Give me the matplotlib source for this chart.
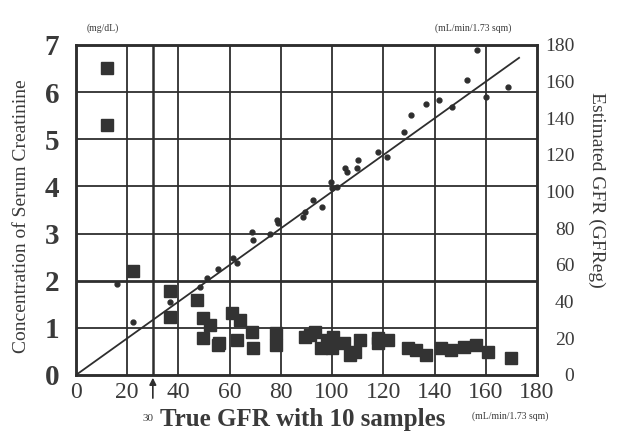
import numpy as np
import matplotlib.pyplot as plt

# serum creatinine (left axis, mg/dL) vs true GFR
cr_gfr = [12, 12, 22.3, 36.8, 36.8, 47.3, 49.7, 52.4, 49.7, 55.6, 56,
          61, 64.2, 68.9, 63, 69.3, 77.9, 77.9, 89.6, 93.5, 95.5, 100.5,
          104.5, 107, 111, 117.8, 91.5, 98, 100, 109, 118, 122, 129.5,
          132.6, 136.5, 142.4, 146.3, 151.4, 156, 160.8, 169.8]
creat = [6.51, 5.3, 2.2, 1.78, 1.23, 1.59, 1.21, 1.06, 0.78, 0.64, 0.68,
         1.31, 1.17, 0.91, 0.74, 0.57, 0.89, 0.64, 0.81, 0.91, 0.57, 0.81,
         0.68, 0.42, 0.74, 0.68, 0.85, 0.74, 0.57, 0.49, 0.78, 0.74, 0.57,
         0.53, 0.42, 0.57, 0.53, 0.59, 0.64, 0.49, 0.36]

# estimated GFR (right axis) vs true GFR
est_true = [16, 22.3, 36.8, 48.5, 51.3, 55.6, 61.4, 63, 68.9, 69.3, 75.9,
            78.6, 79, 88.8, 89.6, 92.7, 96.2, 99.4, 100, 102, 105, 106,
            110, 109.9, 117.8, 121.3, 128, 130.7, 136.5, 141.6, 146.7,
            152.6, 156.5, 160, 168.6]
est_gfr = [49.6, 28.9, 40, 48, 53, 58, 64, 61, 78, 73.6, 77,
           84.5, 83, 86, 89, 95.5, 91.6, 105, 102, 102.6, 113, 110.7,
           117, 113, 121.6, 119, 132.5, 141.8, 148, 150, 146,
           161, 177, 151.6, 157]

identity = [0, 173]

xgrid = [20, 30, 40, 60, 80, 100, 120, 140, 160]

plt.rcParams['font.family'] = ['Liberation Serif', 'DejaVu Serif']

fig = plt.figure(figsize=(6.21, 4.36), dpi=100)
ax = fig.add_axes([0.1224, 0.14, 0.7423, 0.7568])
ax2 = ax.twinx()

dark = '#2e2e2e'
txt = '#3a3a3a'

ax.set_xlim(0, 180)
ax.set_ylim(0, 7)
ax2.set_ylim(0, 180)

for xv in xgrid:
    ax.axvline(xv, color=dark, lw=1.8 if xv == 30 else 1.3, zorder=1)
for yv in range(1, 7):
    ax.axhline(yv, color=dark, lw=2.0 if yv == 2 else 1.3, zorder=1)

ax2.plot(identity, identity, color=dark, lw=1.3, zorder=2)
ax2.plot(est_true, est_gfr, 'o', color=dark, ms=3.5, zorder=3)
ax.plot(cr_gfr, creat, 's', color='#333333', ms=9, mec='#333333', zorder=3)

ax.set_xticks(range(0, 181, 20))
ax.set_yticks(range(0, 8))
ax2.set_yticks(range(0, 181, 20))
ax.tick_params(axis='x', length=0, pad=5, labelsize=17, labelcolor=txt)
ax.tick_params(axis='y', length=0, pad=12, labelsize=21, labelcolor=txt)
for lab in ax.get_yticklabels():
    lab.set_fontweight('bold')
ax2.tick_params(axis='y', length=0, pad=27, labelsize=14, labelcolor=txt)
for lab in ax2.get_yticklabels():
    lab.set_horizontalalignment('right')

for a in (ax, ax2):
    for s in a.spines.values():
        s.set_color(dark)
        s.set_linewidth(1.8)

ax.set_ylabel('Concentration of Serum Creatinine', fontsize=14, color=txt)
ax.yaxis.set_label_coords(-0.10, 0.48)
fig.text(0.961, 0.564, 'Estimated GFR (GFReg)', fontsize=14, color=txt,
         rotation=270, ha='center', va='center')

fig.text(0.165, 0.935, '(mg/dL)', fontsize=7, color=txt, ha='center', va='center')
fig.text(0.762, 0.935, '(mL/min/1.73 sqm)', fontsize=7, color=txt, ha='center', va='center')
fig.text(0.488, 0.022, 'True GFR with 10 samples', fontsize=18, fontweight='bold',
         color=txt, ha='center', va='baseline')
fig.text(0.238, 0.035, '30', fontsize=8, color=txt, ha='center', va='baseline')
fig.text(0.822, 0.04, '(mL/min/1.73 sqm)', fontsize=7, color=txt, ha='center', va='baseline')

ax.annotate('', xy=(30, 0), xycoords='data', xytext=(30, -0.55),
            arrowprops=dict(arrowstyle='-|>', color=dark, lw=1.2), annotation_clip=False)

fig.savefig('out.png', dpi=100)
